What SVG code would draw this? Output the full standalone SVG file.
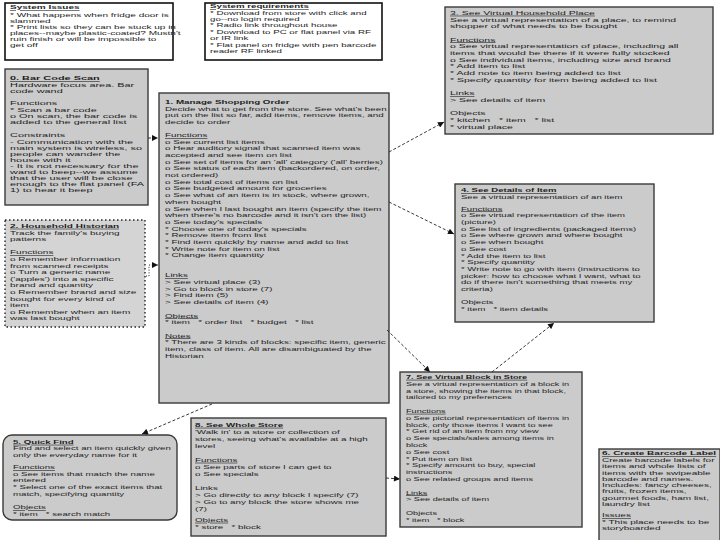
<svg xmlns="http://www.w3.org/2000/svg" width="720" height="540" viewBox="0 0 720 540">
<style>
.t{font-family:"Liberation Sans",Arial,sans-serif;font-size:5.9px;fill:#1e1e1e}
.b{font-weight:bold}
.u{text-decoration:underline}
.box{fill:#cbcbcb;stroke:#3a3a3a;stroke-width:1.4}
.sys{fill:#fff;stroke:#111;stroke-width:1.6}
.dot{fill:#d4d4d4;stroke:#222;stroke-width:1.4;stroke-dasharray:1.5 2.5}
.c{fill:none;stroke:#222;stroke-width:0.9;stroke-dasharray:3 2}
.d{fill:none;stroke:#222;stroke-width:1;stroke-dasharray:1 1.8}
</style>
<defs>
<marker id="ah" viewBox="0 0 10 10" refX="10" refY="5" markerWidth="7" markerHeight="6" markerUnits="userSpaceOnUse" orient="auto"><path d="M0,0 L10,5 L0,10 z" fill="#111"/></marker>
</defs>
<rect width="720" height="540" fill="#fff"/>

<g id="system-issues">
<rect class="sys" x="5" y="3" width="168" height="57"/>
<g class="t" transform="translate(10,0) scale(1.7,1)" font-size="5.3">
<text x="0" y="9.5" class="b u">System Issues</text>
<text x="0" y="17.5">* What happens when fridge door is</text>
<text x="0" y="23.5">slammed</text>
<text x="0" y="29.5">* Print lists so they can be stuck up in</text>
<text x="0" y="35.5">places--maybe plastic-coated? Mustn't</text>
<text x="0" y="41.5">ruin finish or will be impossible to</text>
<text x="0" y="47.5">get off</text>
</g>
</g>

<g id="system-requirements">
<rect class="sys" x="205" y="3" width="177" height="57"/>
<g class="t" transform="translate(210,0) scale(1.65,1)" font-size="5.7">
<text x="0" y="8.3" class="b u">System requirements</text>
<text x="0" y="14.7">* Download from store with click and</text>
<text x="0" y="21.1">go--no login required</text>
<text x="0" y="27.5">* Radio link throughout house</text>
<text x="0" y="33.9">* Download to PC or flat panel via RF</text>
<text x="0" y="40.3">or IR link</text>
<text x="0" y="46.7">* Flat panel on fridge with pen barcode</text>
<text x="0" y="53.1">reader RF linked</text>
</g>
</g>

<g id="node-3">
<rect class="box" x="445" y="7" width="268" height="127"/>
<g class="t" transform="translate(450,0) scale(1.78,1)">
<text x="0" y="15" class="u">3. See Virtual Household Place</text>
<text x="0" y="21.7">See a virtual representation of a place, to remind</text>
<text x="0" y="28.4">shopper of what needs to be bought</text>
<text x="0" y="41.7" class="u">Functions</text>
<text x="0" y="48.4">o See virtual representation of place, including all</text>
<text x="0" y="55.1">items that would be there if it were fully stocked</text>
<text x="0" y="61.8">o See individual items, including size and brand</text>
<text x="0" y="68.5">* Add item to list</text>
<text x="0" y="75.2">* Add note to item being added to list</text>
<text x="0" y="81.9">* Specify quantity for item being added to list</text>
<text x="0" y="95.3" class="u">Links</text>
<text x="0" y="102">&gt; See details of item</text>
<text x="0" y="115.4">Objects</text>
<text x="0" y="122.1">* kitchen&#160;&#160;&#160;* item&#160;&#160;&#160;* list</text>
<text x="0" y="128.8">* virtual place</text>
</g>
</g>

<g id="node-0">
<rect class="box" x="5" y="69" width="143" height="136"/>
<g class="t" transform="translate(10,0) scale(1.85,1)" font-size="5.4">
<text x="0" y="80.5" class="b u">0. Bar Code Scan</text>
<text x="0" y="86.6">Hardware focus area. Bar</text>
<text x="0" y="92.7">code wand</text>
<text x="0" y="105.5">Functions</text>
<text x="0" y="111.6">* Scan a bar code</text>
<text x="0" y="117.7">o On scan, the bar code is</text>
<text x="0" y="123.8">added to the general list</text>
<text x="0" y="137.5">Constraints</text>
<text x="0" y="143.6">- Communication with the</text>
<text x="0" y="149.7">main system is wireless, so</text>
<text x="0" y="155.8">people can wander the</text>
<text x="0" y="161.9">house with it</text>
<text x="0" y="168">- It is not necessary for the</text>
<text x="0" y="174.1">wand to beep--we assume</text>
<text x="0" y="180.2">that the user will be close</text>
<text x="0" y="186.3">enough to the flat panel (FA</text>
<text x="0" y="192.4">1) to hear it beep</text>
</g>
</g>

<g id="node-2">
<rect class="dot" x="5" y="220" width="140" height="107"/>
<g class="t" transform="translate(10,0) scale(1.7,1)" font-size="5.85">
<text x="0" y="228" class="b u">2. Household Historian</text>
<text x="0" y="234.6">Track the family's buying</text>
<text x="0" y="241.2">patterns</text>
<text x="0" y="254.4" class="u">Functions</text>
<text x="0" y="261">o Remember information</text>
<text x="0" y="267.6">from scanned receipts</text>
<text x="0" y="274.2">o Turn a generic name</text>
<text x="0" y="280.8">('apples') into a specific</text>
<text x="0" y="287.4">brand and quantity</text>
<text x="0" y="294">o Remember brand and size</text>
<text x="0" y="300.6">bought for every kind of</text>
<text x="0" y="307.2">item</text>
<text x="0" y="313.8">o Remember when an item</text>
<text x="0" y="320.4">was last bought</text>
</g>
</g>

<g id="node-1">
<rect class="box" x="159" y="93" width="230" height="310"/>
<g class="t" transform="translate(165,0) scale(1.66,1)">
<text x="0" y="103.9" class="b">1. Manage Shopping Order</text>
<text x="0" y="110.6">Decide what to get from the store. See what's been</text>
<text x="0" y="117.3">put on the list so far, add items, remove items, and</text>
<text x="0" y="124">decide to order</text>
<text x="0" y="137.4" class="u">Functions</text>
<text x="0" y="143.6">o See current list items</text>
<text x="0" y="150.3">o Hear auditory signal that scanned item was</text>
<text x="0" y="157">accepted and see item on list</text>
<text x="0" y="163.7">o See set of items for an 'all' category ('all' berries)</text>
<text x="0" y="170.4">o See status of each item (backordered, on order,</text>
<text x="0" y="177.1">not ordered)</text>
<text x="0" y="183.8">o See total cost of items on list</text>
<text x="0" y="190.5">o See budgeted amount for groceries</text>
<text x="0" y="197.2">o See what of an item is in stock, where grown,</text>
<text x="0" y="203.9">when bought</text>
<text x="0" y="210.6">o See when I last bought an item (specify the item</text>
<text x="0" y="217.3">when there's no barcode and it isn't on the list)</text>
<text x="0" y="224">o See today's specials</text>
<text x="0" y="230.7">* Choose one of today's specials</text>
<text x="0" y="237.4">* Remove item from list</text>
<text x="0" y="244.1">* Find item quickly by name and add to list</text>
<text x="0" y="250.8">* Write note for item on list</text>
<text x="0" y="257.5">* Change item quantity</text>
<text x="0" y="277.4" class="u">Links</text>
<text x="0" y="284.1">&gt; See virtual place (3)</text>
<text x="0" y="290.8">&gt; Go to block in store (7)</text>
<text x="0" y="297.5">&gt; Find item (5)</text>
<text x="0" y="304.2">&gt; See details of item (4)</text>
<text x="0" y="317.6" class="u">Objects</text>
<text x="0" y="324.3">* item&#160;&#160;&#160;* order list&#160;&#160;&#160;* budget&#160;&#160;&#160;* list</text>
<text x="0" y="337.7" class="u">Notes</text>
<text x="0" y="344.4">* There are 3 kinds of blocks: specific item, generic</text>
<text x="0" y="351.1">item, class of item. All are disambiguated by the</text>
<text x="0" y="357.8">Historian</text>
</g>
</g>

<g id="node-4">
<rect class="box" x="455" y="184" width="199" height="138"/>
<g class="t" transform="translate(461,0) scale(1.62,1)">
<text x="0" y="192.4" class="b u">4. See Details of Item</text>
<text x="0" y="199.1">See a virtual representation of an item</text>
<text x="0" y="210.7" class="u">Functions</text>
<text x="0" y="217.4">o See virtual representation of the item</text>
<text x="0" y="224.1">(picture)</text>
<text x="0" y="230.8">o See list of ingredients (packaged items)</text>
<text x="0" y="237.5">o See where grown and where bought</text>
<text x="0" y="244.2">o See when bought</text>
<text x="0" y="250.9">o See cost</text>
<text x="0" y="257.6">* Add the item to list</text>
<text x="0" y="264.3">* Specify quantity</text>
<text x="0" y="271">* Write note to go with item (instructions to</text>
<text x="0" y="277.7">picker: how to choose what I want, what to</text>
<text x="0" y="284.4">do if there isn't something that meets my</text>
<text x="0" y="291.1">criteria)</text>
<text x="0" y="304.5">Objects</text>
<text x="0" y="311.2">* item&#160;&#160;&#160;* item details</text>
</g>
</g>

<g id="node-7">
<rect class="box" x="400" y="372" width="182" height="155"/>
<g class="t" transform="translate(406,0) scale(1.55,1)" font-size="6">
<text x="0" y="379" class="b u">7. See Virtual Block in Store</text>
<text x="0" y="385.8">See a virtual representation of a block in</text>
<text x="0" y="392.6">a store, showing the items in that block,</text>
<text x="0" y="399.4">tailored to my preferences</text>
<text x="0" y="413" class="u">Functions</text>
<text x="0" y="419.8">o See pictorial representation of items in</text>
<text x="0" y="426.6">block, only those items I want to see</text>
<text x="0" y="433.4">* Get rid of an item from my view</text>
<text x="0" y="440.2">o See specials/sales among items in</text>
<text x="0" y="447">block</text>
<text x="0" y="453.8">o See cost</text>
<text x="0" y="460.6">* Put item on list</text>
<text x="0" y="467.4">* Specify amount to buy, special</text>
<text x="0" y="474.2">instructions</text>
<text x="0" y="481">o See related groups and items</text>
<text x="0" y="494.6" class="u">Links</text>
<text x="0" y="501.4">&gt; See details of item</text>
<text x="0" y="515">Objects</text>
<text x="0" y="521.8">* item&#160;&#160;&#160;* block</text>
</g>
</g>

<g id="node-6">
<rect class="box" x="599" y="449" width="121" height="95"/>
<g class="t" transform="translate(602,0) scale(1.7,1)" font-size="5.6">
<text x="0" y="455.5" class="b u">6. Create Barcode Label</text>
<text x="0" y="462">Create barcode labels for</text>
<text x="0" y="468.3">items and whole lists of</text>
<text x="0" y="474.6">items with the swipeable</text>
<text x="0" y="480.9">barcode and names.</text>
<text x="0" y="487.2">Includes: fancy cheeses,</text>
<text x="0" y="493.5">fruits, frozen items,</text>
<text x="0" y="499.8">gourmet foods, ham list,</text>
<text x="0" y="506.1">laundry list</text>
<text x="0" y="517.5" class="u">Issues</text>
<text x="0" y="524">* This place needs to be</text>
<text x="0" y="530.5">storyboarded</text>
</g>
</g>

<g id="node-5">
<rect class="box" x="3" y="435" width="174" height="85" rx="9" ry="9"/>
<g class="t" transform="translate(13,0) scale(1.64,1)" font-size="5.8">
<text x="0" y="444" class="b u">5. Quick Find</text>
<text x="0" y="450.5">Find and select an item quickly given</text>
<text x="0" y="457">only the everyday name for it</text>
<text x="0" y="469.5" class="u">Functions</text>
<text x="0" y="476">o See items that match the name</text>
<text x="0" y="482.5">entered</text>
<text x="0" y="489.2">* Select one of the exact items that</text>
<text x="0" y="495.9">match, specifying quantity</text>
<text x="0" y="509.3" class="u">Objects</text>
<text x="0" y="516.5">* item&#160;&#160;&#160;* search match</text>
</g>
</g>

<g id="node-8">
<rect class="box" x="191" y="418" width="195" height="118"/>
<g class="t" transform="translate(195,0) scale(1.66,1)" font-size="6.2">
<text x="0" y="427" class="b u">8. See Whole Store</text>
<text x="0" y="434">'Walk in' to a store or collection of</text>
<text x="0" y="441">stores, seeing what's available at a high</text>
<text x="0" y="448">level</text>
<text x="0" y="462" class="u">Functions</text>
<text x="0" y="469">o See parts of store I can get to</text>
<text x="0" y="476">o See specials</text>
<text x="0" y="490">Links</text>
<text x="0" y="497">&gt; Go directly to any block I specify (7)</text>
<text x="0" y="504">&gt; Go to any block the store shows me</text>
<text x="0" y="511">(7)</text>
<text x="0" y="522" class="u">Objects</text>
<text x="0" y="529">* store&#160;&#160;&#160;* block</text>
</g>
</g>

<g id="connectors">
<path class="c" d="M148,138 L158,138" marker-end="url(#ah)"/>
<path class="d" d="M146,276 H149 V265 H158" marker-end="url(#ah)"/>
<path class="c" d="M389,152 L444,122" marker-end="url(#ah)"/>
<path class="c" d="M389,202 L454,234" marker-end="url(#ah)"/>
<path class="c" d="M387,330 L430,372" marker-end="url(#ah)"/>
<path class="c" d="M492,372 L554,323" marker-end="url(#ah)"/>
<path class="c" d="M212,404 L142,434" marker-end="url(#ah)"/>
<path class="c" d="M386,478 L400,479" marker-end="url(#ah)"/>
</g>
</svg>
